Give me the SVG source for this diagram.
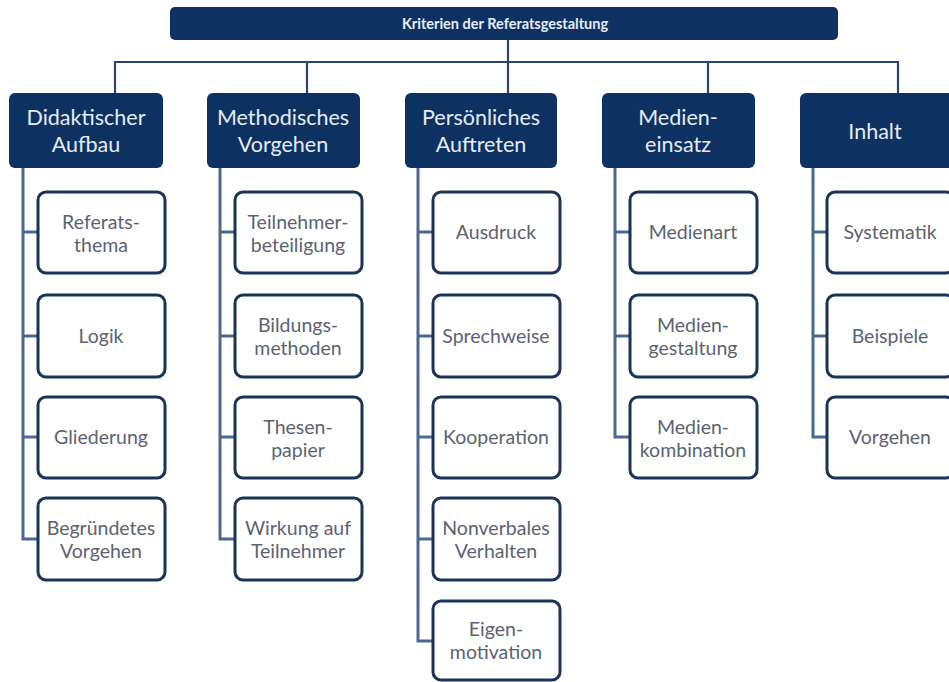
<svg xmlns="http://www.w3.org/2000/svg" width="949" height="682" viewBox="0 0 949 682">
<style>
.bg{fill:#ffffff}
.top{fill:#0d3262}
.cat{fill:#0d3262}
.child{fill:#ffffff;stroke:#1b3458;stroke-width:3}
.tree{fill:none;stroke:#2a4669;stroke-width:2.2}
.spine{fill:none;stroke:#4a6890;stroke-width:3}
.tt{font-family:Lato,"Open Sans",sans-serif;font-weight:bold;font-size:14.5px;fill:#e8edf4;text-anchor:middle}
.ct{font-family:Lato,"Open Sans",sans-serif;font-size:21.5px;fill:#e6ecf4;text-anchor:middle}
.ch{font-family:Lato,"Open Sans",sans-serif;font-size:19.5px;fill:#5b6371;text-anchor:middle}
</style>
<rect class="bg" x="0" y="0" width="949" height="682"/>
<g id="connectors">
<path class="tree" d="M508,40 V62 M115,93 V62 H898 V93 M307,62 V93 M508,62 V93 M708,62 V93"/>
<path class="spine" d="M23,168 V539 H38 M23,232 H38 M23,336 H38 M23,437 H38"/>
<path class="spine" d="M220,168 V539 H235 M220,232 H235 M220,336 H235 M220,437 H235"/>
<path class="spine" d="M418,168 V641 H433 M418,232 H433 M418,336 H433 M418,437 H433 M418,539 H433"/>
<path class="spine" d="M615,168 V437 H630 M615,232 H630 M615,336 H630"/>
<path class="spine" d="M813,168 V437 H827 M813,232 H827 M813,336 H827"/>
</g>
<g id="root"><rect class="top" x="170" y="7" width="668" height="33" rx="5"/><text class="tt" x="505" y="29">Kriterien der Referatsgestaltung</text></g>
<g id="cat-didaktisch"><rect class="cat" x="9" y="93" width="154" height="75" rx="6"/><text class="ct" x="86" y="125">Didaktischer</text><text class="ct" x="86" y="152">Aufbau</text></g>
<g id="cat-methodisch"><rect class="cat" x="207" y="93" width="153" height="75" rx="6"/><text class="ct" x="283" y="125">Methodisches</text><text class="ct" x="283" y="152">Vorgehen</text></g>
<g id="cat-persoenlich"><rect class="cat" x="405" y="93" width="152" height="75" rx="6"/><text class="ct" x="481" y="125">Persönliches</text><text class="ct" x="481" y="152">Auftreten</text></g>
<g id="cat-medien"><rect class="cat" x="602" y="93" width="153" height="75" rx="6"/><text class="ct" x="678" y="125">Medien-</text><text class="ct" x="678" y="152">einsatz</text></g>
<g id="cat-inhalt"><rect class="cat" x="800" y="93" width="160" height="75" rx="6"/><text class="ct" x="875" y="139">Inhalt</text></g>

<g id="c-referatsthema"><rect class="child" x="38" y="192" width="127" height="81" rx="8"/><text class="ch" x="101" y="229">Referats-</text><text class="ch" x="101" y="252">thema</text></g>
<g id="c-logik"><rect class="child" x="38" y="295" width="127" height="82" rx="8"/><text class="ch" x="101" y="343">Logik</text></g>
<g id="c-gliederung"><rect class="child" x="38" y="397" width="127" height="81" rx="8"/><text class="ch" x="101" y="444">Gliederung</text></g>
<g id="c-begruendetes"><rect class="child" x="38" y="498" width="127" height="82" rx="8"/><text class="ch" x="101" y="535">Begründetes</text><text class="ch" x="101" y="558">Vorgehen</text></g>

<g id="c-teilnehmerbeteiligung"><rect class="child" x="235" y="192" width="127" height="81" rx="8"/><text class="ch" x="298" y="229">Teilnehmer-</text><text class="ch" x="298" y="252">beteiligung</text></g>
<g id="c-bildungsmethoden"><rect class="child" x="235" y="295" width="127" height="82" rx="8"/><text class="ch" x="298" y="332">Bildungs-</text><text class="ch" x="298" y="355">methoden</text></g>
<g id="c-thesenpapier"><rect class="child" x="235" y="397" width="127" height="81" rx="8"/><text class="ch" x="298" y="434">Thesen-</text><text class="ch" x="298" y="457">papier</text></g>
<g id="c-wirkung"><rect class="child" x="235" y="498" width="127" height="82" rx="8"/><text class="ch" x="298" y="535">Wirkung auf</text><text class="ch" x="298" y="558">Teilnehmer</text></g>

<g id="c-ausdruck"><rect class="child" x="433" y="192" width="127" height="81" rx="8"/><text class="ch" x="496" y="239">Ausdruck</text></g>
<g id="c-sprechweise"><rect class="child" x="433" y="295" width="127" height="82" rx="8"/><text class="ch" x="496" y="343">Sprechweise</text></g>
<g id="c-kooperation"><rect class="child" x="433" y="397" width="127" height="81" rx="8"/><text class="ch" x="496" y="444">Kooperation</text></g>
<g id="c-nonverbales"><rect class="child" x="433" y="498" width="127" height="82" rx="8"/><text class="ch" x="496" y="535">Nonverbales</text><text class="ch" x="496" y="558">Verhalten</text></g>
<g id="c-eigenmotivation"><rect class="child" x="433" y="601" width="127" height="79" rx="8"/><text class="ch" x="496" y="636">Eigen-</text><text class="ch" x="496" y="659">motivation</text></g>

<g id="c-medienart"><rect class="child" x="630" y="192" width="127" height="81" rx="8"/><text class="ch" x="693" y="239">Medienart</text></g>
<g id="c-mediengestaltung"><rect class="child" x="630" y="295" width="127" height="82" rx="8"/><text class="ch" x="693" y="332">Medien-</text><text class="ch" x="693" y="355">gestaltung</text></g>
<g id="c-medienkombination"><rect class="child" x="630" y="397" width="127" height="81" rx="8"/><text class="ch" x="693" y="434">Medien-</text><text class="ch" x="693" y="457">kombination</text></g>

<g id="c-systematik"><rect class="child" x="827" y="192" width="127" height="81" rx="8"/><text class="ch" x="890" y="239">Systematik</text></g>
<g id="c-beispiele"><rect class="child" x="827" y="295" width="127" height="82" rx="8"/><text class="ch" x="890" y="343">Beispiele</text></g>
<g id="c-vorgehen"><rect class="child" x="827" y="397" width="127" height="81" rx="8"/><text class="ch" x="890" y="444">Vorgehen</text></g>
</svg>
